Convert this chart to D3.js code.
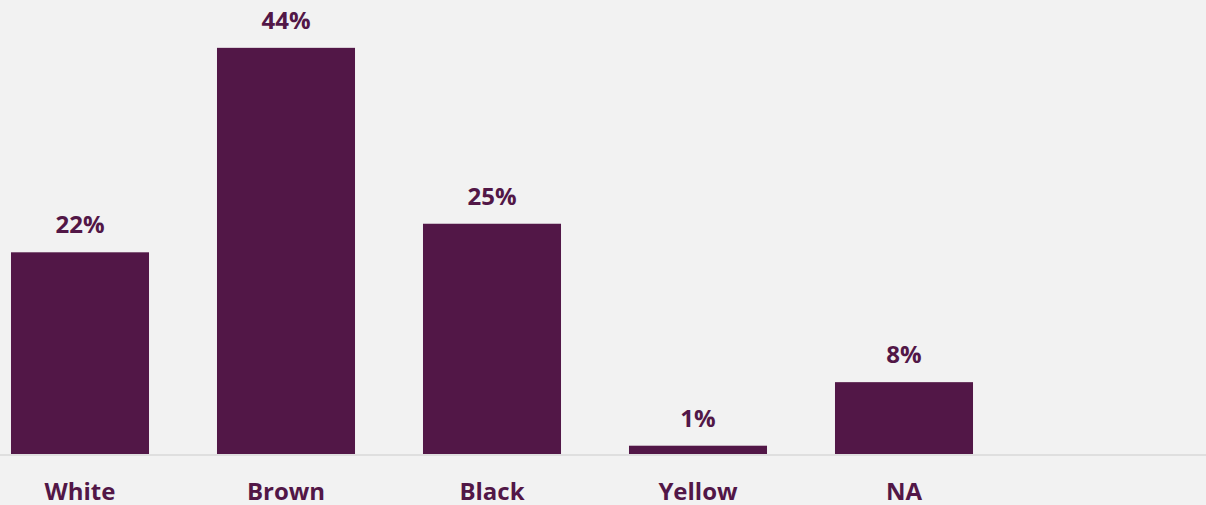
<!DOCTYPE html>
<html><head><meta charset="utf-8">
<script src="https://cdn.jsdelivr.net/npm/d3@7"></script>
<style>
html,body{margin:0;padding:0;background:#f2f2f2;overflow:hidden;}
svg{display:block;}
</style></head>
<body>
<script>
const categories = ["White", "Brown", "Black", "Yellow", "NA"];
const values = [0.219, 0.441, 0.250, 0.009, 0.078];

const W = 1206, H = 505;
const baseY = 454;
const svg = d3.select("body").append("svg").attr("width", W).attr("height", H);
svg.append("rect").attr("width", W).attr("height", H).attr("fill", "#f2f2f2");

const x = d3.scaleBand().domain(categories).range([-23, 1007]).paddingInner(0.33).paddingOuter(0.165);
const y = d3.scaleLinear().domain([0, 0.5]).range([baseY, baseY - 460.5]);

const color = "#521747";
const font = "'Open Sans', 'Noto Sans', sans-serif";

svg.selectAll("rect.bar").data(categories).enter().append("rect")
  .attr("class", "bar")
  .attr("x", d => x(d))
  .attr("width", x.bandwidth())
  .attr("y", (d, i) => y(values[i]))
  .attr("height", (d, i) => baseY - y(values[i]))
  .attr("fill", color);

svg.append("line").attr("x1", 0).attr("x2", W).attr("y1", baseY + 1).attr("y2", baseY + 1)
  .attr("stroke", "#d9d9d9").attr("stroke-width", 1.5);

const fmt = d3.format(".0%");
svg.selectAll("text.val").data(categories).enter().append("text")
  .attr("class", "val")
  .attr("x", d => x(d) + x.bandwidth() / 2)
  .attr("y", (d, i) => y(values[i]) - 19)
  .attr("text-anchor", "middle")
  .attr("font-family", font).attr("font-weight", 700).attr("font-size", 24)
  .attr("fill", color)
  .text((d, i) => fmt(values[i]));

const xAxis = svg.append("g").attr("transform", `translate(0,${baseY})`)
  .call(d3.axisBottom(x).tickSize(0).tickPadding(0));
xAxis.select(".domain").remove();
xAxis.selectAll("text")
  .attr("y", 46).attr("dy", 0)
  .attr("font-family", font).attr("font-weight", 700).attr("font-size", 24)
  .attr("fill", color);
</script>
</body></html>
